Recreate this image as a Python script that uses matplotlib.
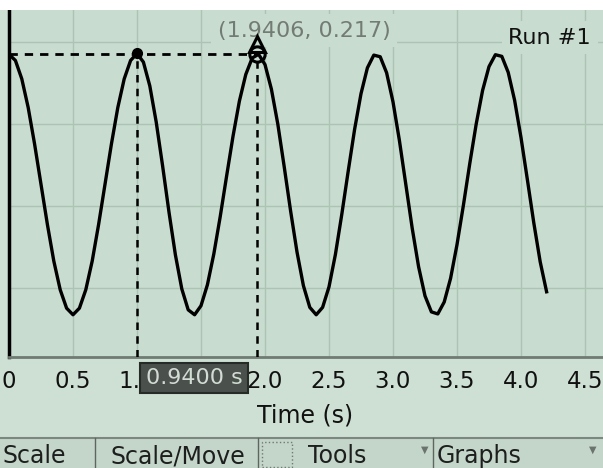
import numpy as np
import matplotlib.pyplot as plt
from matplotlib.patches import Rectangle
from matplotlib.lines import Line2D

# logged position (m), one sample every 0.05 s
sample_interval = 0.05
position = [
    0.2170, 0.2155, 0.2110, 0.2040, 0.1951, 0.1853, 0.1755, 0.1666, 0.1596, 0.1551,
    0.1535, 0.1551, 0.1596, 0.1666, 0.1755, 0.1853, 0.1951, 0.2040, 0.2110, 0.2155,
    0.2172, 0.2151, 0.2093, 0.2005, 0.1898, 0.1785, 0.1681, 0.1598, 0.1547, 0.1535,
    0.1557, 0.1608, 0.1683, 0.1774, 0.1873, 0.1970, 0.2056, 0.2121, 0.2161, 0.2170,
    0.2145, 0.2085, 0.2000, 0.1896, 0.1788, 0.1688, 0.1606, 0.1553, 0.1535, 0.1553,
    0.1603, 0.1682, 0.1780, 0.1885, 0.1987, 0.2074, 0.2137, 0.2168, 0.2164, 0.2125,
    0.2054, 0.1960, 0.1853, 0.1746, 0.1652, 0.1581, 0.1542, 0.1537, 0.1566, 0.1624,
    0.1706, 0.1802, 0.1904, 0.2000, 0.2082, 0.2140, 0.2169, 0.2165, 0.2126, 0.2058,
    0.1967, 0.1864, 0.1759, 0.1664, 0.1591,
]
times = np.arange(len(position)) * sample_interval

# cursors
cursor_a = 1.0006
cursor_a_value = 0.2172
cursor_b = 1.9406
cursor_b_value = 0.217
delta_label = '0.9400 s'
point_label = '(1.9406, 0.217)'
run_label = 'Run #1'

# 1.5 sits fully under the readout box, 1.0 is partly covered
x_ticks = [0, 0.5, 1.0, 1.5, 2.0, 2.5, 3.0, 3.5, 4.0, 4.5]
x_tick_labels = ['0', '0.5', '1.0', '', '2.0', '2.5', '3.0', '3.5', '4.0', '4.5']
y_grid = [0.16, 0.18, 0.20, 0.22]
toolbar_items = ['Scale', 'Scale/Move', 'Tools', 'Graphs']

W, H = 603, 468
plot_bg = '#c8dccf'
fig = plt.figure(figsize=(W / 100, H / 100), dpi=100)
fig.patch.set_facecolor('#cee0d4')

def px(x, y):
    # pixel coords (top-left origin) -> figure fraction
    return x / W, 1 - y / H

# white strip at the top
fig.patches.append(Rectangle((0, 1 - 10 / H), 1, 10 / H, transform=fig.transFigure,
                             facecolor='white', edgecolor='none', zorder=0))

ax = fig.add_axes([9 / W, (H - 357) / H, (W - 9) / W, (357 - 10) / H])
ax.set_facecolor(plot_bg)
ax.set_xlim(0, 594 / 128)
ax.set_ylim(0.1432, 0.2278)

for s in ['top', 'right']:
    ax.spines[s].set_visible(False)
ax.spines['left'].set_color('black')
ax.spines['left'].set_linewidth(2.5)
ax.spines['bottom'].set_color('#6f7b73')
ax.spines['bottom'].set_linewidth(2)

ax.set_xticks(x_ticks)
ax.set_xticklabels(x_tick_labels, fontsize=16.5, color='#111111')
ax.set_yticks(y_grid)
ax.set_yticklabels([])
ax.tick_params(length=0)
ax.tick_params(axis='x', pad=9)
ax.grid(True, color='#adc3b4', linewidth=1)
ax.set_axisbelow(True)

ax.plot(times, position, color='black', linewidth=2.4, zorder=3)

# cursor lines
dash = (0, (3, 2.5))
ax.plot([0, cursor_b], [cursor_b_value, cursor_b_value], color='black',
        linestyle=dash, linewidth=2, zorder=4)
ax.plot([cursor_a, cursor_a], [0.1432, cursor_a_value], color='black',
        linestyle=dash, linewidth=1.8, zorder=4)
ax.plot([cursor_b, cursor_b], [0.1432, cursor_b_value], color='black',
        linestyle=dash, linewidth=1.8, zorder=4)
ax.plot([cursor_a], [cursor_a_value], 'o', color='black', markersize=7, zorder=5)
ax.plot([cursor_b], [cursor_b_value], 'o', markerfacecolor='none',
        markeredgecolor='black', markeredgewidth=2.2, markersize=11, zorder=5)
ax.plot([cursor_b], [0.2195], '^', markerfacecolor='none',
        markeredgecolor='black', markeredgewidth=2.2, markersize=12, zorder=5)

ax.text(0.497, 0.94, point_label, transform=ax.transAxes, ha='center', va='center',
        fontsize=16, color='#737b75', zorder=2,
        bbox=dict(boxstyle='square,pad=0.3', facecolor=plot_bg, edgecolor='none'))
ax.text(0.98, 0.92, run_label, transform=ax.transAxes, ha='right', va='center',
        fontsize=16, color='#111111', zorder=2,
        bbox=dict(boxstyle='square,pad=0.3', facecolor=plot_bg, edgecolor='none'))

# delta readout box over the axis labels
fig.text(*px(194, 378), delta_label, ha='center', va='center', fontsize=16,
         color='#d3dbd5', zorder=10,
         bbox=dict(boxstyle='square,pad=0.24', facecolor='#4a514c', edgecolor='#262b28',
                   linewidth=1.5))

fig.text(*px(305, 415), 'Time (s)', ha='center', va='center', fontsize=17, color='#111111')

# toolbar
fig.patches.append(Rectangle((0, 0), 1, 1 - 438 / H, transform=fig.transFigure,
                             facecolor='#c4d5c9', edgecolor='none', zorder=0))
fig.lines.append(Line2D([0, 1], [1 - 438 / H] * 2, transform=fig.transFigure,
                        color='#7b877f', linewidth=1.5))
for xd in [95, 258, 433]:
    fig.lines.append(Line2D([xd / W] * 2, [0, 1 - 438 / H], transform=fig.transFigure,
                            color='#5d665f', linewidth=1))
fig.patches.append(Rectangle(px(262, 467), 30 / W, 25 / H, transform=fig.transFigure,
                             facecolor='none', edgecolor='#6f7a72', linestyle=':',
                             linewidth=1))
text_x = [2, 110, 308, 437]
for label, tx in zip(toolbar_items, text_x):
    fig.text(*px(tx, 456), label, ha='left', va='center', fontsize=17, color='#1c1f1d')
for tri_x in [425, 593]:
    fig.text(*px(tri_x, 450), '\u25bc', ha='center', va='center', fontsize=7,
             color='#6a736d')

fig.savefig('out.png', dpi=100, facecolor=fig.get_facecolor())
